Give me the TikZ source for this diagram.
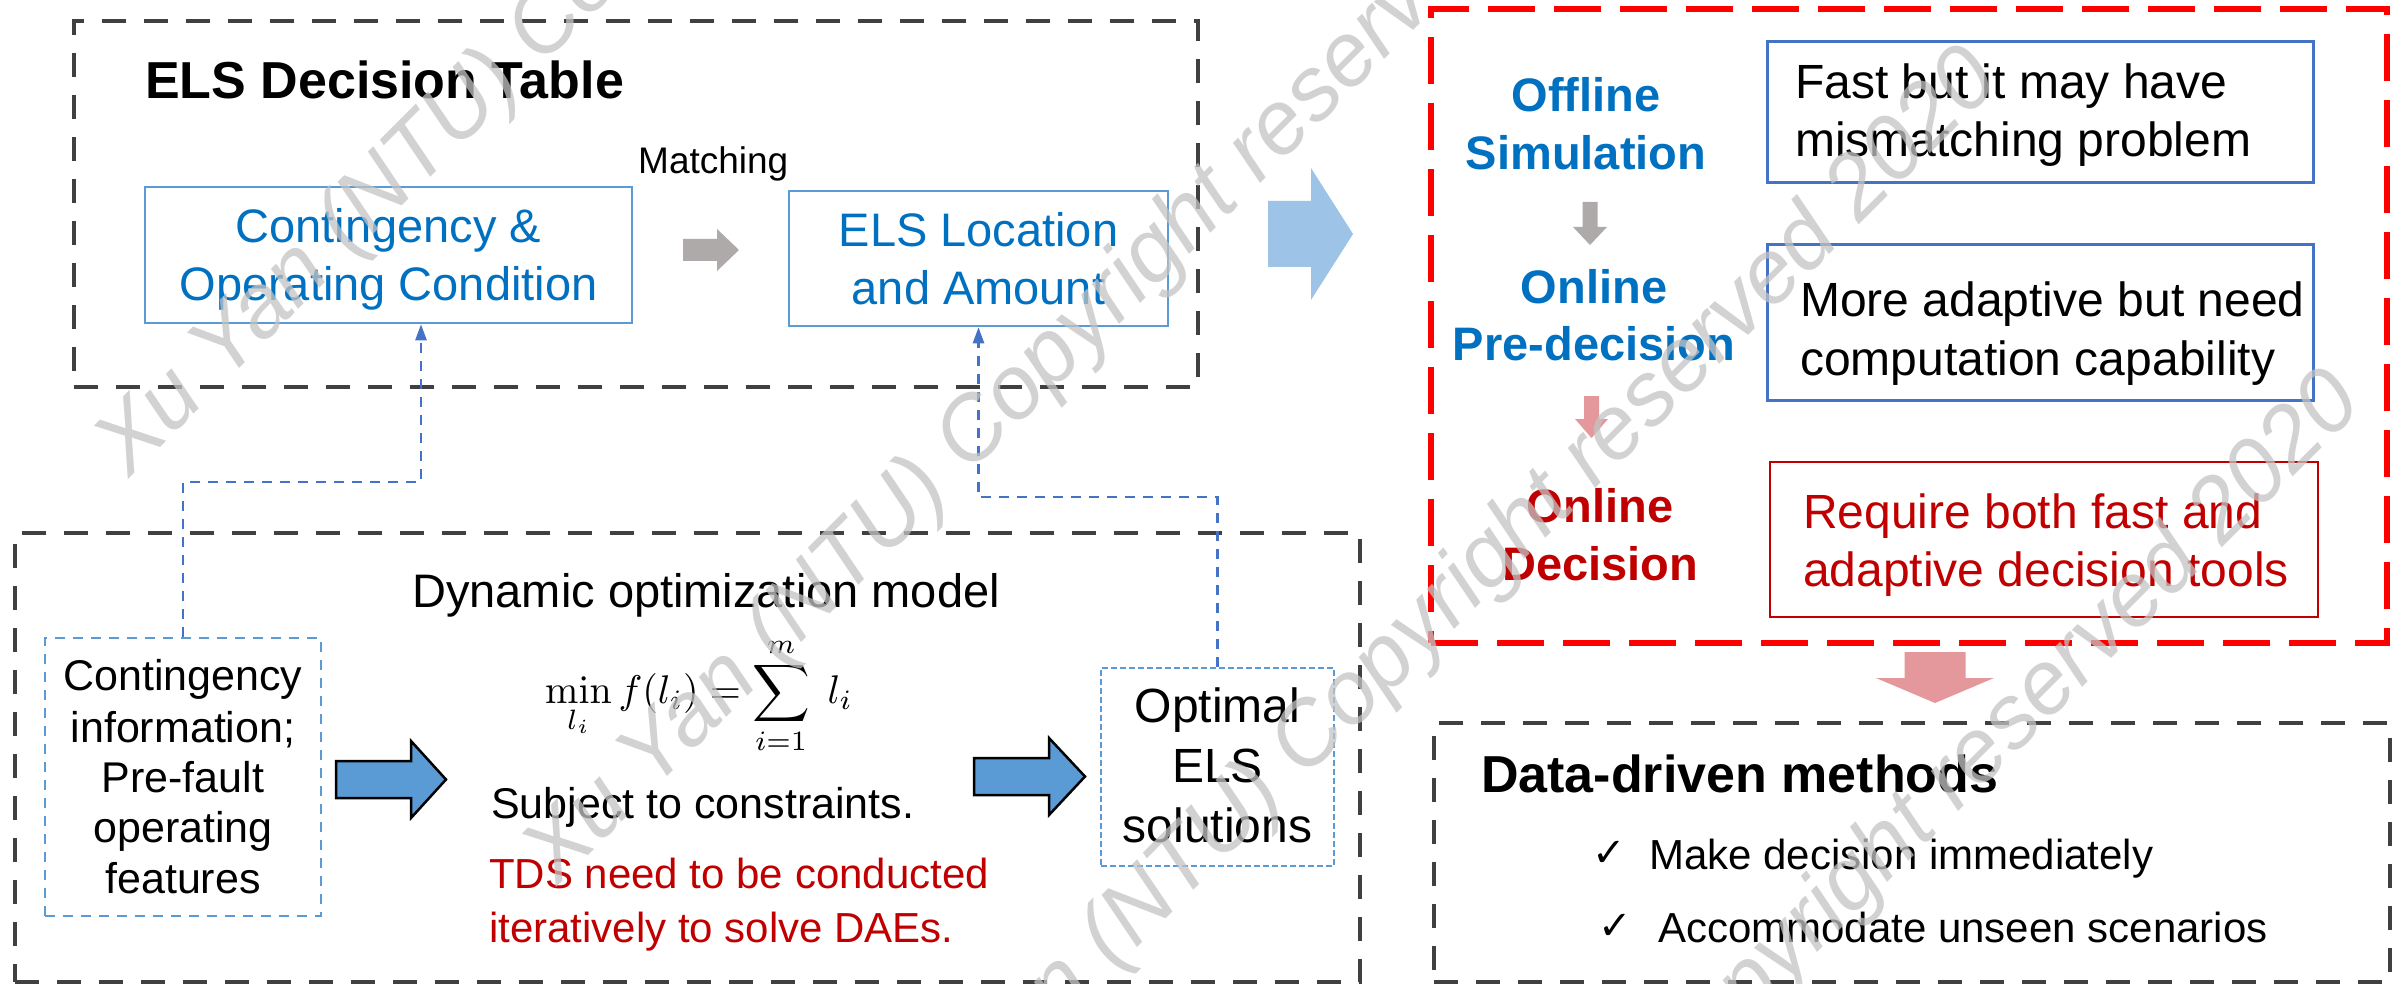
\documentclass[tikz,border=0pt]{standalone}
\usepackage{graphicx}
\usepackage[no-math]{fontspec}
\setmainfont{Liberation Sans}
\newfontfamily\dejavu{DejaVu Sans}
\usetikzlibrary{arrows.meta}
\definecolor{dgray}{RGB}{64,64,64}
\definecolor{tblue}{RGB}{0,112,192}
\definecolor{tred}{RGB}{192,0,0}
\definecolor{lblue}{RGB}{91,155,213}
\definecolor{cblue}{RGB}{68,114,196}
\definecolor{ablue}{RGB}{157,195,230}
\definecolor{agray}{RGB}{174,170,170}
\definecolor{apink}{RGB}{229,152,155}
\definecolor{wmgray}{RGB}{195,195,195}
\newcommand\fsz[1]{\fontsize{#1}{#1}\selectfont}
\begin{document}
\begin{tikzpicture}[x=1pt,y=-1pt,
  frame/.style={draw=dgray, line width=4.8pt, dash pattern=on 24pt off 18pt, inner sep=0pt, rectangle},
  redframe/.style={draw=red, line width=5.5pt, dash pattern=on 47pt off 19pt, inner sep=0pt, rectangle},
  lbox/.style={draw=lblue, line width=2.5pt, inner sep=0pt, rectangle},
  bbox/.style={draw=cblue, line width=3pt, inner sep=0pt, rectangle},
  rbox/.style={draw=tred, line width=2.5pt, inner sep=0pt, rectangle},
  dbox/.style={draw=lblue, line width=2.2pt, dash pattern=on 10pt off 8pt, inner sep=0pt, rectangle},
  obox/.style={draw=lblue, line width=2.2pt, dash pattern=on 6pt off 3pt, inner sep=0pt, rectangle},
  link/.style={draw=cblue, line width=2.5pt, dash pattern=on 10pt off 8pt, -{Triangle[length=16pt,width=11pt]}},
  t/.style={inner sep=0pt, anchor=base west},
  tc/.style={inner sep=0pt, anchor=base},
  wm/.style={inner sep=0pt, anchor=base west, rotate=45, font=\fsz{90}\itshape, text=wmgray, opacity=0.75},
  blkgray/.style={fill=agray, draw=none},
  blkpink/.style={fill=apink, draw=none},
  blklight/.style={fill=ablue, draw=none},
  blkblue/.style={fill=lblue, draw=black, line width=2.5pt, line join=miter}
]
\useasboundingbox[fill=white] (0,0) rectangle (2397,984);

% frames
\node[frame, minimum width=1124pt, minimum height=366pt] (top) at (636,204) {};
\node[frame, minimum width=1345pt, minimum height=449pt] (dyn) at (687.5,757.5) {};
\node[redframe, minimum width=956pt, minimum height=634pt] (redf) at (1909,326) {};
\node[frame, minimum width=956pt, minimum height=259pt] (dd) at (1912,852.5) {};

% inner boxes
\node[lbox, minimum width=487pt, minimum height=136pt] (cont) at (388.5,255) {};
\node[lbox, minimum width=379pt, minimum height=135pt] (els) at (978.5,258.5) {};
\node[bbox, minimum width=546pt, minimum height=141pt] (fast) at (2040,112.5) {};
\node[bbox, minimum width=546pt, minimum height=155pt] (more) at (2040,322.5) {};
\node[rbox, minimum width=548pt, minimum height=155pt] (req) at (2044,539.5) {};
\node[dbox, minimum width=276pt, minimum height=278pt] (info) at (183,777) {};
\node[obox, minimum width=233pt, minimum height=198pt] (opt) at (1217.5,767) {};

% connectors
\coordinate (k1) at (421,482);
\draw[link] (info.north) |- (k1) -- (k1 |- cont.south);
\coordinate (k2) at (978.5,497);
\draw[link] (opt.north) |- (k2) -- (els.south);

% block arrows
\fill[blkgray] (683,239) -- (717,239) -- (717,229) -- (739,250) -- (717,271) -- (717,261) -- (683,261) -- cycle;
\fill[blklight] (1268,201) -- (1311,201) -- (1311,168) -- (1353,234) -- (1311,300) -- (1311,267) -- (1268,267) -- cycle;
\filldraw[blkblue] (336,761) -- (411,761) -- (411,741) -- (446,779.5) -- (411,818) -- (411,798) -- (336,798) -- cycle;
\filldraw[blkblue] (974,758) -- (1049,758) -- (1049,738) -- (1085,776.5) -- (1049,815) -- (1049,795) -- (974,795) -- cycle;
\fill[blkgray] (1582.5,202) -- (1582.5,227) -- (1573,227) -- (1590,245) -- (1607,227) -- (1597.5,227) -- (1597.5,202) -- cycle;
\fill[blkpink] (1584,396) -- (1584,419) -- (1575,419) -- (1591.5,438) -- (1608,419) -- (1599,419) -- (1599,396) -- cycle;
\fill[blkpink] (1904.5,652) -- (1904.5,678) -- (1876,678) -- (1935,703) -- (1994,678) -- (1965.5,678) -- (1965.5,652) -- cycle;

% texts top-left
\node[t, font=\fsz{52}\bfseries] (title1) at (145,99) {ELS Decision Table};
\node[t, font=\fsz{37}] (match) at (638,174) {Matching};
\node[tc, font=\fsz{47}, text=tblue] (cont1) at (388.5,243) {Contingency \&};
\node[tc, font=\fsz{47}, text=tblue] (cont2) at (388.5,300) {Operating Condition};
\node[tc, font=\fsz{47}, text=tblue] (els1) at (978.5,247) {ELS Location};
\node[tc, font=\fsz{47}, text=tblue] (els2) at (978.5,304) {and Amount};

% texts bottom-left
\node[t, font=\fsz{47}] (dynt) at (412,607) {Dynamic optimization model};
\node[tc, font=\fsz{43}] (info1) at (183,690) {Contingency};
\node[tc, font=\fsz{43}] (info2) at (183,742) {information;};
\node[tc, font=\fsz{43}] (info3) at (183,792) {Pre-fault};
\node[tc, font=\fsz{43}] (info4) at (183,842) {operating};
\node[tc, font=\fsz{43}] (info5) at (183,893) {features};
\node[t] (formula) at (545,703) {\scalebox{4}{$\displaystyle \min_{l_i} f(l_i)=\sum_{i=1}^{m}\; l_i$}};
\node[t, font=\fsz{43}] (subj) at (491,818) {Subject to constraints.};
\node[t, font=\fsz{42}, text=tred] (tds1) at (489,888) {TDS need to be conducted};
\node[t, font=\fsz{42}, text=tred] (tds2) at (489,942) {iteratively to solve DAEs.};
\node[tc, font=\fsz{48}] (opt1) at (1217.5,722) {Optimal};
\node[tc, font=\fsz{48}] (opt2) at (1217.5,782) {ELS};
\node[tc, font=\fsz{48}] (opt3) at (1217.5,842) {solutions};

% texts right
\node[tc, font=\fsz{47}\bfseries, text=tblue] (off1) at (1586,112) {Offline};
\node[tc, font=\fsz{47}\bfseries, text=tblue] (off2) at (1586,170) {Simulation};
\node[tc, font=\fsz{47}\bfseries, text=tblue] (onp1) at (1594,303) {Online};
\node[tc, font=\fsz{47}\bfseries, text=tblue] (onp2) at (1594,360) {Pre-decision};
\node[tc, font=\fsz{47}\bfseries, text=tred] (ond1) at (1600,522) {Online};
\node[tc, font=\fsz{47}\bfseries, text=tred] (ond2) at (1600,580) {Decision};
\node[t, font=\fsz{48}] (fast1) at (1795,99) {Fast but it may have};
\node[t, font=\fsz{48}] (fast2) at (1795,157) {mismatching problem};
\node[t, font=\fsz{48}] (more1) at (1800,316) {More adaptive but need};
\node[t, font=\fsz{48}] (more2) at (1800,375) {computation capability};
\node[t, font=\fsz{48}, text=tred] (req1) at (1803,528) {Require both fast and};
\node[t, font=\fsz{48}, text=tred] (req2) at (1803,586) {adaptive decision tools};
\node[t, font=\fsz{52}\bfseries] (ddt) at (1481,792) {Data-driven methods};
\node[t, font=\fsz{40}\dejavu] (chk1) at (1592,866) {✓};
\node[t, font=\fsz{42}] (dd1) at (1649,869) {Make decision immediately};
\node[t, font=\fsz{40}\dejavu] (chk2) at (1598,939) {✓};
\node[t, font=\fsz{42}] (dd2) at (1658,942) {Accommodate unseen scenarios};

% watermark
\begin{scope}
\clip (0,0) rectangle (2397,984);
\node[wm] (w1) at (129,479) {Xu Yan (NTU) Copyright reserved 2020};
\node[wm] (w2) at (557,887) {Xu Yan (NTU) Copyright reserved 2020};
\node[wm] (w3) at (892,1192) {Xu Yan (NTU) Copyright reserved 2020};
\node[wm] (w4) at (1255,1515) {Xu Yan (NTU) Copyright reserved 2020};
\end{scope}
\end{tikzpicture}
\end{document}
